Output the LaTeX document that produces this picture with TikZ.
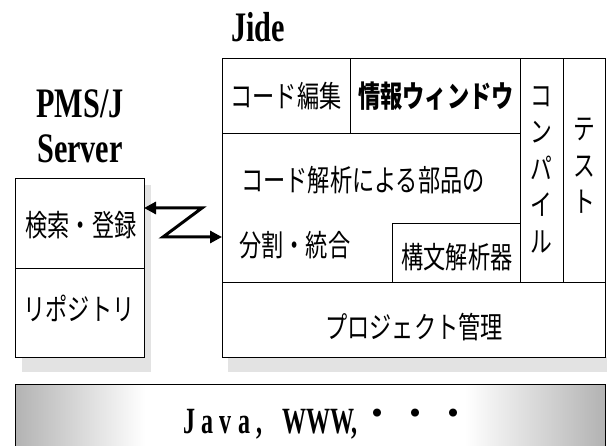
\documentclass[tikz,border=0pt]{standalone}
\usepackage{fontspec}
\usepackage{graphicx}
\setmainfont{Liberation Serif}
\newfontfamily\jpfont{Noto Sans CJK JP}
\usetikzlibrary{arrows.meta}
\newcommand\jtext[1]{\scalebox{0.74}[1]{#1}}
\newcommand\vtext[1]{\scalebox{0.75}[1]{\begin{tabular}{@{}c@{}}#1\end{tabular}}}
\begin{document}
\begin{tikzpicture}[x=1pt,y=-1pt,
  box/.style={draw, line width=0.8pt, fill=white, inner sep=0pt, outer sep=0pt, anchor=north west},
  jp/.style={font=\fontsize{30}{34}\selectfont\jpfont, inner sep=0pt},
  vjp/.style={font=\fontsize{29}{36.6}\selectfont\jpfont, inner sep=0pt},
  title/.style={font=\fontsize{42}{44}\selectfont\bfseries, inner sep=0pt, anchor=base},
  shadow/.style={fill=gray!22, draw=none},
  zarrow/.style={line width=3pt, {Triangle[length=12pt,width=12pt]}-{Triangle[length=12pt,width=12pt]}}
]
\useasboundingbox (0,0) rectangle (607,446);
% shadows
\fill[shadow] (144,185) rectangle (151,372);
\fill[shadow] (22,357) rectangle (151,372);
\fill[shadow] (228,357) rectangle (607,372);
% bottom bar
\node[inner sep=0pt, outer sep=0pt, minimum width=590, minimum height=62, anchor=north west, fill=white] (bar) at (15,384) {};
\shade[left color=gray!60, right color=white] (bar.north west) rectangle (145,446);
\shade[left color=white, right color=gray!60] (465,384) rectangle (bar.south east);
\draw[line width=0.8pt] (bar.south west) -- (bar.north west) -- (bar.north east) -- (bar.south east);
\node[font=\fontsize{37}{40}\selectfont\bfseries, inner sep=0pt, anchor=base] (java) at (223,433) {\scalebox{0.65}[1]{J a v a ,}};
\node[font=\fontsize{37}{40}\selectfont\bfseries, inner sep=0pt, anchor=base] (www) at (320,433) {\scalebox{0.65}[1]{WWW,}};
\node[font=\fontsize{38}{40}\selectfont\jpfont, inner sep=0pt] (dots) at (415,418) {・・・};
% left box
\node[box, minimum width=129, minimum height=90] (search) at (15,178) {};
\node[box, minimum width=129, minimum height=89] (repo) at (15,268) {};
\node[jp] (tsearch) at (81,225) {\jtext{検索・登録}};
\node[jp] (trepo) at (79,308) {\jtext{リポジトリ}};
% right box
\node[box, minimum width=383, minimum height=299] (jidebox) at (222,58) {};
\node[box, minimum width=128, minimum height=75] (edit) at (222,58) {};
\node[box, minimum width=170, minimum height=75] (info) at (350,58) {};
\node[box, minimum width=43, minimum height=224] (compile) at (520,58) {};
\node[box, minimum width=42, minimum height=224] (test) at (563,58) {};
\node[box, minimum width=383, minimum height=75] (project) at (222,282) {};
\node[box, minimum width=128, minimum height=59] (parser) at (392,223) {};
\node[jp] (tedit) at (286,96) {\jtext{コード編集}};
\node[jp, font=\fontsize{30}{34}\selectfont\jpfont\bfseries] (tinfo) at (436,96) {\jtext{情報ウィンドウ}};
\node[jp, anchor=west] (tana1) at (241,180) {\jtext{コード解析による部品の}};
\node[jp, anchor=west] (tana2) at (239,245) {\jtext{分割・統合}};
\node[jp] (tparser) at (457,257) {\jtext{構文解析器}};
\node[jp] (tproject) at (414,327) {\jtext{プロジェクト管理}};
\node[vjp] (tcompile) at (541.5,172) {\vtext{コ\\ン\\パ\\イ\\ル}};
\node[vjp] (ttest) at (584.5,169) {\vtext{テ\\ス\\ト}};
% titles
\node[title] (pms) at (80,118) {\scalebox{0.72}[1]{PMS/J}};
\node[title] (server) at (80,163) {\scalebox{0.72}[1]{Server}};
\node[title] (jide) at (258,42) {\scalebox{0.72}[1]{Jide}};
% arrow
\coordinate (zA) at (202,208);
\coordinate (zB) at (163,237);
\draw[zarrow, line join=miter] (search.east |- zA) -- (zA) -- (zB) -- (zB -| jidebox.west);
\end{tikzpicture}
\end{document}
